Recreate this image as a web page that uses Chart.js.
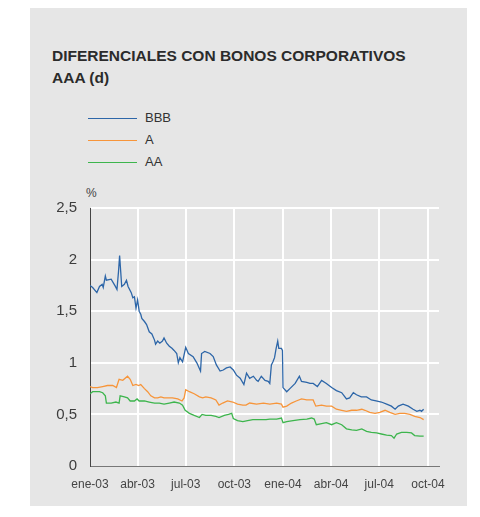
<!DOCTYPE html>
<html>
<head>
<meta charset="utf-8">
<script src="https://cdn.jsdelivr.net/npm/chart.js@4/dist/chart.umd.min.js"></script>
<style>
  html, body { margin: 0; padding: 0; background: #ffffff; }
  body { width: 480px; height: 517px; position: relative; overflow: hidden; font-family: "Liberation Sans", Arial, sans-serif; }
  #panel { position: absolute; left: 30px; top: 8px; width: 437px; height: 498px; background: #e6e6e6; }
  #title { position: absolute; left: 52px; top: 45px; font-size: 15.5px; line-height: 22px; font-weight: bold; color: #2b2b2b; white-space: nowrap; }
  #legend { position: absolute; left: 88px; top: 107px; }
  .item { position: relative; height: 22px; }
  .item .ln { position: absolute; left: 0; top: 10.5px; width: 49px; height: 1.5px; }
  .item .tx { position: absolute; left: 57px; top: 3px; font-size: 13px; line-height: 16px; color: #333; }
  #unit { position: absolute; left: 86px; top: 186px; font-size: 12px; line-height: 14px; color: #444; }
  canvas { position: absolute; left: 0; top: 0; }
</style>
</head>
<body>
<div id="panel"></div>
<div id="title">DIFERENCIALES CON BONOS CORPORATIVOS<br>AAA (d)</div>
<div id="legend"></div>
<div id="unit">%</div>
<canvas id="c" width="480" height="517" style="width:480px;height:517px"></canvas>
<script>
// Days counted from 1 Jan 2003
const xTickDays = [0, 90, 181, 273, 365, 456, 547, 639];
const xTickLabels = ['ene-03', 'abr-03', 'jul-03', 'oct-03', 'ene-04', 'abr-04', 'jul-04', 'oct-04'];
const yTickLabels = ['0', '0,5', '1', '1,5', '2', '2,5'];

const bbbDays = [0,5,13,18,23,25,29,31,40,48,51,54,56,58,60,65,69,72,78,81,84,87,90,93,96,98,103,107,112,117,122,124,128,132,137,140,145,150,155,159,164,167,170,175,181,186,195,202,209,211,217,227,233,239,246,252,258,265,271,277,284,291,296,302,309,315,318,324,331,337,340,343,346,349,352,355,357,362,364,365,372,378,388,396,400,410,416,422,430,438,447,457,466,476,485,491,498,504,513,523,532,541,551,561,570,577,583,592,602,611,618,624,627,631];
const bbbValues = [1.75,1.73,1.68,1.74,1.76,1.73,1.84,1.80,1.81,1.74,1.71,1.89,2.04,1.89,1.74,1.76,1.80,1.74,1.68,1.63,1.64,1.53,1.61,1.50,1.47,1.43,1.40,1.37,1.30,1.28,1.22,1.18,1.21,1.19,1.21,1.24,1.19,1.16,1.14,1.12,1.09,1.00,1.05,1.01,1.15,1.09,1.06,1.00,0.92,1.09,1.11,1.09,1.06,0.98,0.92,0.93,0.95,0.96,0.93,0.88,0.85,0.79,0.90,0.85,0.87,0.83,0.82,0.87,0.83,0.82,0.80,0.98,1.01,1.05,1.14,1.21,1.14,1.14,1.12,0.76,0.72,0.75,0.80,0.87,0.82,0.81,0.80,0.80,0.77,0.83,0.80,0.76,0.73,0.71,0.65,0.66,0.71,0.69,0.67,0.67,0.64,0.63,0.62,0.60,0.58,0.55,0.58,0.60,0.58,0.55,0.53,0.54,0.53,0.55];

const aDays = [0,5,14,24,33,43,50,55,62,71,76,81,87,92,96,103,109,115,122,128,134,140,147,156,166,174,178,181,188,197,207,213,219,229,238,244,251,260,270,279,289,295,302,315,328,340,353,362,365,372,381,390,400,410,422,427,438,447,457,466,476,485,495,504,514,520,529,539,548,558,567,577,586,595,605,614,624,631];
const aValues = [0.77,0.76,0.76,0.77,0.78,0.78,0.76,0.84,0.83,0.87,0.84,0.78,0.79,0.78,0.79,0.75,0.72,0.68,0.66,0.66,0.67,0.66,0.66,0.66,0.65,0.63,0.66,0.74,0.72,0.70,0.67,0.66,0.67,0.66,0.64,0.59,0.61,0.63,0.62,0.60,0.59,0.59,0.61,0.60,0.61,0.60,0.61,0.60,0.57,0.58,0.61,0.63,0.65,0.64,0.64,0.58,0.59,0.58,0.58,0.55,0.54,0.53,0.54,0.54,0.55,0.54,0.52,0.51,0.52,0.54,0.52,0.50,0.51,0.51,0.50,0.48,0.47,0.45];

const aaDays = [0,5,11,18,24,29,31,40,49,55,57,65,71,76,84,89,93,103,112,122,131,140,150,159,169,175,180,188,197,207,212,219,229,238,244,254,262,268,271,279,289,298,308,320,333,340,353,362,365,372,384,397,410,419,424,428,438,447,457,466,476,485,495,504,514,523,532,542,551,561,570,575,580,589,599,608,614,624,631];
const aaValues = [0.70,0.72,0.72,0.72,0.71,0.68,0.61,0.61,0.62,0.61,0.68,0.67,0.66,0.63,0.63,0.65,0.63,0.63,0.62,0.61,0.61,0.60,0.61,0.62,0.61,0.59,0.54,0.51,0.49,0.47,0.50,0.49,0.49,0.48,0.47,0.49,0.50,0.51,0.46,0.44,0.43,0.44,0.45,0.45,0.45,0.455,0.455,0.465,0.42,0.43,0.44,0.45,0.455,0.465,0.455,0.40,0.41,0.42,0.40,0.42,0.40,0.36,0.35,0.345,0.36,0.335,0.325,0.32,0.31,0.30,0.295,0.27,0.31,0.325,0.325,0.32,0.295,0.29,0.29];

function pts(days, vals) { return days.map((d, i) => ({ x: d, y: vals[i] })); }

const datasets = [
  { label: 'BBB', data: pts(bbbDays, bbbValues), borderColor: '#2d66a8' },
  { label: 'A', data: pts(aDays, aValues), borderColor: '#f7953a' },
  { label: 'AA', data: pts(aaDays, aaValues), borderColor: '#3db54d' }
].map(d => Object.assign(d, { borderWidth: 1.3, pointRadius: 0, tension: 0, fill: false }));

const legend = document.getElementById('legend');
datasets.forEach(d => {
  const it = document.createElement('div'); it.className = 'item';
  const ln = document.createElement('div'); ln.className = 'ln'; ln.style.background = d.borderColor;
  const tx = document.createElement('div'); tx.className = 'tx'; tx.textContent = d.label;
  it.appendChild(ln); it.appendChild(tx); legend.appendChild(it);
});

new Chart(document.getElementById('c'), {
  type: 'line',
  data: { datasets },
  options: {
    responsive: false,
    animation: false,
    devicePixelRatio: 1,
    layout: { padding: { top: 208, right: 41, bottom: 0, left: 0 } },
    plugins: { legend: { display: false }, tooltip: { enabled: false } },
    scales: {
      x: {
        type: 'linear', min: 0, max: 660,
        afterBuildTicks: s => { s.ticks = xTickDays.map(v => ({ value: v })); },
        afterFit: s => { s.height = 51; },
        grid: { color: c => (c.tick && c.tick.value === 0) ? 'rgba(0,0,0,0)' : '#ffffff', lineWidth: 2, drawTicks: false },
        border: { color: '#777777', width: 1 },
        ticks: {
          autoSkip: false, maxRotation: 0, padding: 11, color: '#444444',
          font: { family: '"Liberation Sans", Arial, sans-serif', size: 12 },
          callback: (v, i) => xTickLabels[i]
        }
      },
      y: {
        min: 0, max: 2.5,
        afterFit: s => { s.width = 90; },
        grid: { color: c => (c.tick && c.tick.value === 0) ? 'rgba(0,0,0,0)' : '#ffffff', lineWidth: 2, drawTicks: false },
        border: { color: '#444444', width: 1 },
        ticks: {
          stepSize: 0.5, padding: 13, color: '#3d3d3d',
          font: { family: '"Liberation Sans", Arial, sans-serif', size: 15 },
          callback: (v, i) => yTickLabels[i]
        }
      }
    }
  }
});
</script>
</body>
</html>
